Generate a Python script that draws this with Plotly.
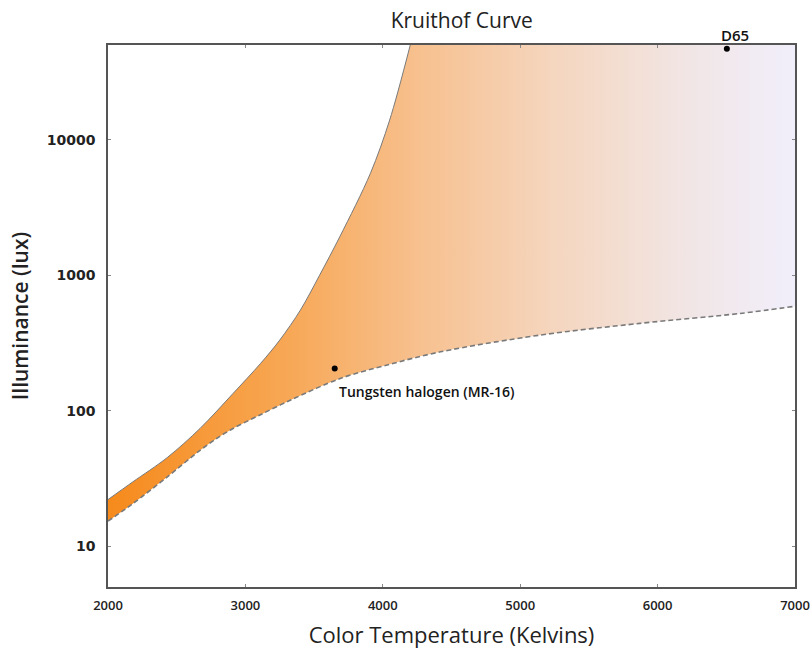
import math
import plotly.graph_objects as go

# Kruithof comfort region: lower and upper illuminance bounds vs colour temperature
lower_k = [2000, 2180, 2430, 2670, 2790, 2910, 3110, 3330, 3690, 4050, 4420, 5140, 5870, 6600, 7000]
lower_lux = [15.3, 20.6, 32.4, 51, 62.4, 74, 93.5, 120, 173, 220, 272, 361, 441, 522, 590]

upper_k = [2000, 2180, 2430, 2670, 2910, 3110, 3250, 3400, 3540, 3690, 3910, 4050, 4200]
upper_lux = [22.1, 29.8, 45, 74, 134, 223, 332, 552, 1000, 1950, 5650, 13960, 50000]

# Reference light sources
source_names = ["Tungsten halogen (MR-16)", "D65"]
source_k = [3650, 6504]
source_lux = [205, 47000]

x_ticks = [2000, 3000, 4000, 5000, 6000, 7000]
y_ticks = [10, 100, 1000, 10000]
x_range = [2000, 7000]
y_range = [5, 50000]

gradient = [
    [0.0, "#F68A1C"],
    [0.25, "#F7A652"],
    [0.45, "#F7C08E"],
    [0.65, "#F5D6BF"],
    [0.85, "#F1E6E6"],
    [1.0, "#F1EEFB"],
]

SMOOTH = 0.9
fig = go.Figure()

# Gradient band from the lower bound up to the top of the plot
fig.add_trace(go.Scatter(
    x=lower_k, y=lower_lux, mode="lines",
    line=dict(color="rgba(0,0,0,0)", width=0, shape="spline", smoothing=SMOOTH),
    hoverinfo="skip", showlegend=False,
))
fig.add_trace(go.Scatter(
    x=x_range, y=[y_range[1], y_range[1]], mode="lines", fill="tonexty",
    line=dict(color="rgba(0,0,0,0)", width=0),
    fillgradient=dict(type="horizontal", colorscale=gradient, start=x_range[0], stop=x_range[1]),
    hoverinfo="skip", showlegend=False,
))

# Blank out everything above the upper bound
fig.add_trace(go.Scatter(
    x=[x_range[0], upper_k[-1]], y=[y_range[1], y_range[1]], mode="lines",
    line=dict(color="rgba(0,0,0,0)", width=0),
    hoverinfo="skip", showlegend=False,
))
fig.add_trace(go.Scatter(
    x=upper_k, y=upper_lux, mode="lines", fill="tonexty", fillcolor="white",
    line=dict(color="rgba(0,0,0,0)", width=0, shape="spline", smoothing=SMOOTH),
    hoverinfo="skip", showlegend=False,
))

# Boundary strokes
fig.add_trace(go.Scatter(
    x=upper_k, y=upper_lux, mode="lines",
    line=dict(color="#7a7a7a", width=1, shape="spline", smoothing=SMOOTH),
    showlegend=False,
))
fig.add_trace(go.Scatter(
    x=lower_k, y=lower_lux, mode="lines",
    line=dict(color="#7a7a7a", width=1.6, dash="5px,3px", shape="spline", smoothing=SMOOTH),
    showlegend=False,
))

fig.add_trace(go.Scatter(
    x=source_k, y=source_lux, mode="markers",
    marker=dict(color="black", size=6),
    showlegend=False,
))

fig.add_annotation(
    x=source_k[0], y=math.log10(source_lux[0]), text=source_names[0],
    showarrow=False, xanchor="left", yanchor="top", xshift=2, yshift=-12,
    font=dict(family="Open Sans", size=14, color="#111111", weight=600),
)
fig.add_annotation(
    x=source_k[1], y=math.log10(source_lux[1]), text=source_names[1],
    showarrow=False, xanchor="center", yanchor="bottom", xshift=8, yshift=2,
    font=dict(family="Open Sans", size=15, color="#111111", weight=600),
)

axis_common = dict(
    showgrid=False, zeroline=False, showline=True, linecolor="#555555", linewidth=1.5,
    mirror="ticks", ticks="inside", ticklen=3, tickcolor="#888888", automargin=False,
)

fig.update_xaxes(
    range=x_range, tickvals=x_ticks, ticktext=[str(v) for v in x_ticks],
    tickfont=dict(family="Open Sans", size=13, color="#222222", weight=600),
    ticklabelstandoff=6,
    title=dict(text="Color Temperature (Kelvins)", font=dict(family="Open Sans", size=22, color="#222222"), standoff=14),
    **axis_common,
)
fig.update_yaxes(
    type="log", range=[math.log10(y_range[0]), math.log10(y_range[1])],
    tickvals=y_ticks, ticktext=[str(v) for v in y_ticks],
    tickfont=dict(family="DejaVu Sans", size=14, color="#222222", weight="bold"),
    ticklabelstandoff=8,
    title=dict(text="Illuminance (lux)", font=dict(family="Open Sans", size=21, color="#222222", weight=600), standoff=12),
    **axis_common,
)

fig.update_layout(
    width=810, height=649,
    margin=dict(l=108, r=15, t=45, b=62),
    plot_bgcolor="white", paper_bgcolor="white",
    title=dict(text="Kruithof Curve", x=0.57, xanchor="center", y=0.968, yanchor="middle",
               font=dict(family="Open Sans", size=21, color="#222222")),
)

fig.write_html("out.html")
